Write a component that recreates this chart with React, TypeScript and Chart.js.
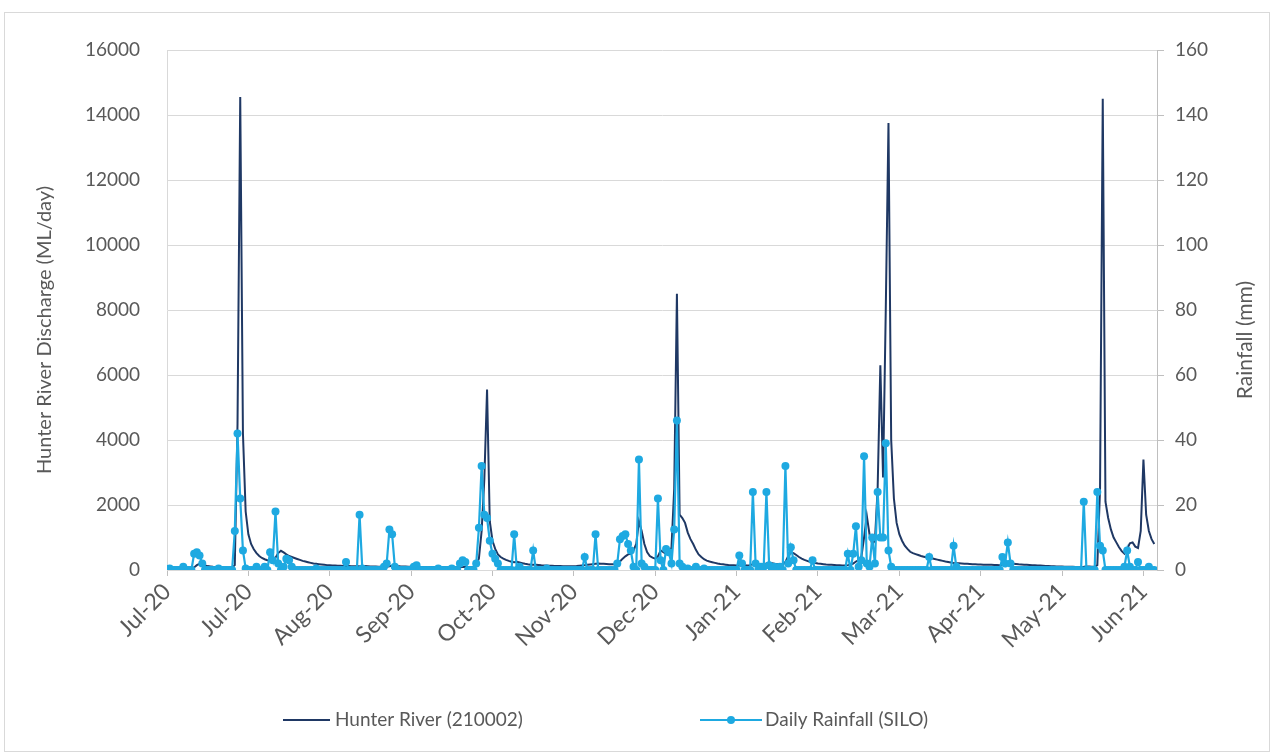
import React, { useEffect, useRef } from "react";
import { Chart, registerables } from "chart.js";

Chart.register(...registerables);

// ---- Data ----
const tickLabels = ["Jul-20", "Jul-20", "Aug-20", "Sep-20", "Oct-20", "Nov-20", "Dec-20", "Jan-21", "Feb-21", "Mar-21", "Apr-21", "May-21", "Jun-21"];
const tickStepDays = 30;
const seriesNames = ["Hunter River (210002)", "Daily Rainfall (SILO)"];
const axisTitles = ["Hunter River Discharge (ML/day)", "Rainfall (mm)"];

// Daily discharge (ML/day), 1 Jul 2020 – 30 Jun 2021
const discharge: number[] = [
  90, 85, 80, 80, 75, 75, 70, 70, 70, 70,
  80, 150, 190, 170, 140, 120, 110, 100, 95, 90,
  85, 80, 80, 75, 75, 150, 4500, 14550, 4200, 1800,
  1100, 800, 640, 520, 430, 370, 330, 300, 290, 300,
  380, 520, 590, 540, 480, 430, 400, 370, 340, 310,
  280, 260, 240, 220, 200, 190, 180, 170, 160, 150,
  145, 140, 135, 130, 128, 125, 122, 120, 118, 115,
  112, 115, 125, 120, 115, 110, 108, 105, 102, 100,
  98, 100, 115, 130, 125, 118, 112, 108, 105, 100,
  98, 96, 95, 94, 93, 92, 91, 90, 90, 89,
  88, 88, 87, 87, 86, 86, 85, 85, 85, 90,
  95, 92, 90, 100, 150, 350, 1200, 2800, 5550, 1500,
  900, 650, 480, 400, 350, 310, 280, 255, 240, 250,
  230, 210, 190, 175, 165, 160, 165, 155, 145, 140,
  135, 130, 128, 125, 122, 120, 118, 116, 115, 113,
  115, 120, 130, 140, 150, 160, 170, 180, 190, 200,
  195, 190, 185, 180, 180, 175, 190, 260, 350, 420,
  480, 500, 600, 800, 1500, 1200, 800, 550, 430, 380,
  350, 420, 600, 550, 500, 480, 700, 2500, 8500, 1700,
  1600, 1450, 1150, 950, 800, 620, 480, 400, 330, 290,
  260, 240, 220, 200, 185, 175, 165, 155, 150, 145,
  140, 140, 150, 145, 140, 150, 180, 200, 190, 180,
  175, 200, 230, 210, 190, 180, 170, 165, 250, 420,
  540, 520, 460, 400, 350, 310, 280, 250, 230, 215,
  200, 190, 180, 170, 165, 160, 155, 150, 145, 140,
  140, 150, 170, 200, 260, 300, 400, 1000, 1670, 1100,
  800, 900, 2500, 6300, 2850, 8000, 13750, 4000, 2200, 1450,
  1100, 900, 750, 650, 560, 520, 490, 460, 430, 410,
  390, 380, 360, 340, 320, 300, 280, 260, 245, 230,
  215, 210, 205, 200, 195, 190, 185, 180, 175, 170,
  168, 165, 162, 160, 158, 155, 152, 150, 155, 165,
  190, 200, 195, 185, 175, 170, 165, 160, 155, 150,
  145, 140, 135, 130, 125, 120, 115, 112, 110, 108,
  105, 103, 100, 100, 98, 96, 95, 94, 100, 110,
  105, 100, 98, 150, 2500, 14500, 2100, 1600, 1250, 1000,
  850, 700, 580, 500, 650, 820, 850, 720, 680, 1200,
  3400, 1700, 1200, 950, 800,
];

// Daily rainfall (mm), same days
const rainfall: number[] = [
  0, 0.5, 0, 0, 0, 0, 1, 0, 0, 0,
  5, 5.5, 4.5, 2, 0, 0, 0, 0, 0, 0.5,
  0, 0, 0, 0, 0, 12, 42, 22, 6, 0.5,
  0, 0, 0, 1, 0, 0, 1, 0, 5.5, 3,
  18, 2, 0, 1, 3.5, 3, 1, 0, 0, 0,
  0, 0, 0, 0, 0, 0.5, 0, 0, 0, 0,
  0, 0, 0, 0, 0, 0, 2.5, 0, 0, 0,
  0, 17, 0.5, 0, 0, 0, 0, 0, 0, 0,
  1, 2, 12.5, 11, 1, 0, 0, 0, 0, 0,
  0, 1, 1.5, 0, 0, 0, 0, 0, 0, 0,
  0.5, 0, 0, 0, 0, 0.5, 0, 0, 2, 3,
  2.5, 0, 0, 0, 2, 13, 32, 17, 16, 9,
  5, 3.5, 2, 0, 0, 0, 0, 0, 11, 0,
  1, 0, 0, 0, 0, 6, 0, 0, 0, 0,
  0.5, 0, 0, 0, 0, 0, 0, 0, 0, 0,
  0, 0, 0, 0, 4, 0, 0, 0, 11, 0,
  0, 0, 0, 0, 0, 0, 2, 9.5, 10.5, 11,
  8, 6, 1, 0, 34, 2, 1, 0, 0, 0,
  0, 22, 3, 0, 6.5, 5.5, 2, 12.5, 46, 2,
  1, 0, 0.5, 0, 0, 1, 0, 0, 0.5, 0,
  0, 0, 0, 0, 0, 0, 0, 0, 0, 0,
  0, 4.5, 2, 0, 0, 0, 24, 2, 0, 1,
  1, 24, 1.5, 0, 1, 0, 1, 0, 32, 2,
  7, 3, 0, 0, 0, 0, 0, 0, 3, 0,
  0, 0, 0, 0, 0, 0, 0, 0, 0, 0,
  0, 5, 0, 5, 13.5, 1, 3, 35, 2, 1,
  10, 2, 24, 10, 10, 39, 6, 1, 0, 0,
  0, 0, 0, 0, 0, 0, 0, 0, 0, 0,
  0, 4, 0, 0, 0, 0, 0, 0, 0, 0,
  7.5, 1, 0, 0, 0, 0, 0, 0, 0, 0,
  0, 0, 0, 0, 0, 0, 0, 0, 4, 2,
  8.5, 2, 0, 0, 0, 0, 0, 0, 0, 0,
  0, 0, 0, 0, 0, 0, 0, 0, 0, 0,
  0, 0, 0, 0, 0, 0, 0, 0, 21, 0,
  0, 0, 0, 24, 7.5, 6, 0, 0, 0, 0,
  0, 0, 0, 1, 6, 1, 0, 0, 2.5, 0,
  0, 0, 1, 0, 0,
];

const FONT = 'Lato, "Open Sans", Arial, sans-serif';
const TEXT = "#595959";
const NAVY = "#1F3864";
const BLUE = "#1EA9E1";

export default function App() {
  const ref = useRef<HTMLCanvasElement | null>(null);

  useEffect(() => {
    const canvas = ref.current;
    if (!canvas) return;

    const overlay = {
      id: "overlay",
      afterDraw(chart: any) {
        const ctx = chart.ctx as CanvasRenderingContext2D;
        ctx.save();
        // outer chart border
        ctx.strokeStyle = "#d9d9d9";
        ctx.lineWidth = 1;
        ctx.strokeRect(4.5, 12.5, 1265, 739);

        // axis titles
        ctx.fillStyle = TEXT;
        ctx.textAlign = "center";
        ctx.textBaseline = "middle";
        ctx.font = `20px ${FONT}`;
        ctx.save();
        ctx.translate(45, 330);
        ctx.rotate(-Math.PI / 2);
        ctx.fillText(axisTitles[0], 0, 0);
        ctx.restore();
        ctx.font = `21px ${FONT}`;
        ctx.save();
        ctx.translate(1245, 340);
        ctx.rotate(-Math.PI / 2);
        ctx.fillText(axisTitles[1], 0, 0);
        ctx.restore();

        // legend
        const ly = 720;
        ctx.font = `19px ${FONT}`;
        ctx.textAlign = "left";
        ctx.lineWidth = 2;
        ctx.strokeStyle = NAVY;
        ctx.beginPath();
        ctx.moveTo(283, ly);
        ctx.lineTo(330, ly);
        ctx.stroke();
        ctx.fillText(seriesNames[0], 335, ly);

        ctx.strokeStyle = BLUE;
        ctx.beginPath();
        ctx.moveTo(700, ly);
        ctx.lineTo(762, ly);
        ctx.stroke();
        ctx.fillStyle = BLUE;
        ctx.beginPath();
        ctx.arc(731, ly, 4, 0, Math.PI * 2);
        ctx.fill();
        ctx.fillStyle = TEXT;
        ctx.fillText(seriesNames[1], 765, ly);
        ctx.restore();
      },
    };

    const chart = new Chart(canvas, {
      type: "line",
      data: {
        datasets: [
          {
            label: seriesNames[0],
            data: discharge.map((v, i) => ({ x: i, y: v })),
            yAxisID: "y",
            borderColor: NAVY,
            backgroundColor: NAVY,
            borderWidth: 2,
            pointRadius: 0,
            tension: 0,
            order: 2,
          },
          {
            label: seriesNames[1],
            data: rainfall.map((v, i) => ({ x: i, y: v })),
            yAxisID: "y1",
            borderColor: BLUE,
            backgroundColor: BLUE,
            borderWidth: 2.2,
            pointRadius: 4,
            pointBorderWidth: 0,
            pointBackgroundColor: BLUE,
            tension: 0,
            order: 1,
          },
        ],
      },
      options: {
        responsive: false,
        animation: false,
        events: [],
        layout: { padding: { left: 0, right: 0, top: 50, bottom: 106 } },
        plugins: { legend: { display: false }, tooltip: { enabled: false } },
        scales: {
          x: {
            type: "linear",
            min: 0,
            max: 365,
            afterFit: (s: any) => {
              s.height = 80;
            },
            ticks: {
              stepSize: tickStepDays,
              includeBounds: false,
              autoSkip: false,
              minRotation: 45,
              maxRotation: 45,
              color: TEXT,
              font: { family: FONT, size: 23 },
              padding: 2,
              callback: (v: any) => {
                const k = Number(v) / tickStepDays;
                return Number.isInteger(k) && tickLabels[k] ? tickLabels[k] : "";
              },
            },
            grid: { drawOnChartArea: false, drawTicks: true, tickLength: 6, color: "#bfbfbf" },
            border: { display: true, color: "#d9d9d9" },
          },
          y: {
            position: "left",
            min: 0,
            max: 16000,
            afterFit: (s: any) => {
              s.width = 167;
            },
            ticks: {
              stepSize: 2000,
              color: TEXT,
              font: { family: FONT, size: 19 },
              padding: 27,
              callback: (v: any) => String(v),
            },
            grid: { color: "#d9d9d9", drawTicks: false },
            border: { display: true, color: "#d9d9d9" },
          },
          y1: {
            position: "right",
            min: 0,
            max: 160,
            afterFit: (s: any) => {
              s.width = 117;
            },
            ticks: {
              stepSize: 20,
              color: TEXT,
              font: { family: FONT, size: 19 },
              padding: 11,
              callback: (v: any) => String(v),
            },
            grid: { drawOnChartArea: false, drawTicks: true, tickLength: 7, color: "#bfbfbf" },
            border: { display: true, color: "#bfbfbf" },
          },
        },
      },
      plugins: [overlay],
    });

    return () => chart.destroy();
  }, []);

  return (
    <div style={{ position: "absolute", left: 0, top: 0, width: 1274, height: 756, background: "#fff" }}>
      <canvas ref={ref} width={1274} height={756} style={{ display: "block", width: 1274, height: 756 }} />
    </div>
  );
}
